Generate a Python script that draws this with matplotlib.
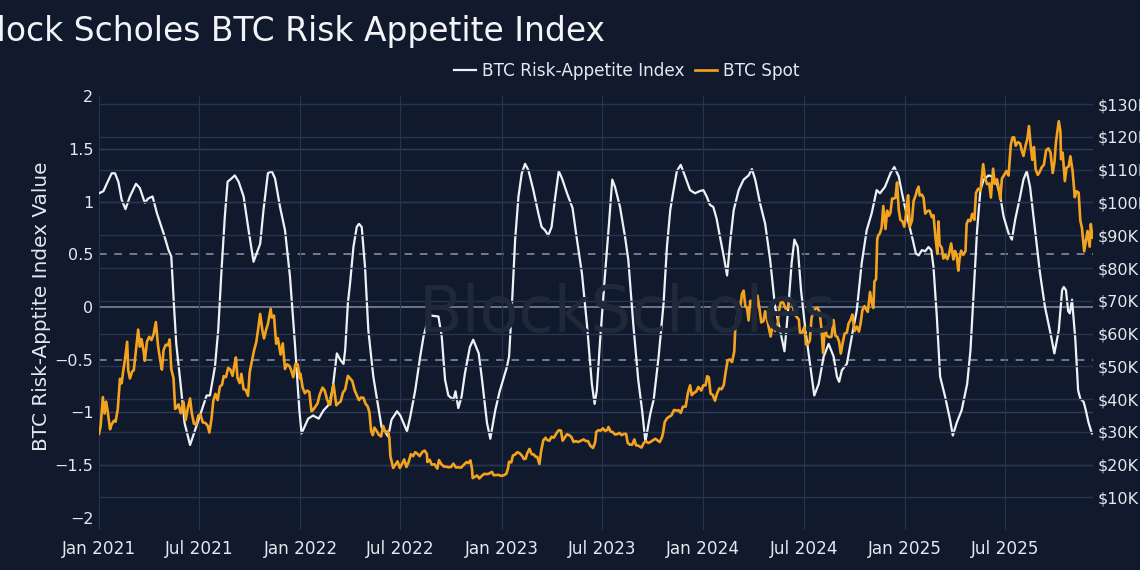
import matplotlib
matplotlib.use('Agg')  # headless
import matplotlib.pyplot as plt
import matplotlib.dates as mdates
from matplotlib.ticker import FuncFormatter
import numpy as np
import pandas as pd

# ---- data ----
# BTC spot, thousands of USD
btc_dates = [
    "2021-01-01", "2021-01-04", "2021-01-08", "2021-01-11", "2021-01-14", "2021-01-17", "2021-01-21", "2021-01-24", "2021-01-28", "2021-01-31",
    "2021-02-04", "2021-02-08", "2021-02-11", "2021-02-14", "2021-02-17", "2021-02-21", "2021-02-23", "2021-02-26",
    "2021-03-02", "2021-03-05", "2021-03-09", "2021-03-13", "2021-03-16", "2021-03-19", "2021-03-23", "2021-03-25", "2021-03-29",
    "2021-04-02", "2021-04-06", "2021-04-10", "2021-04-14", "2021-04-18", "2021-04-22", "2021-04-25", "2021-04-28",
    "2021-05-02", "2021-05-06", "2021-05-09", "2021-05-12", "2021-05-16", "2021-05-19", "2021-05-22", "2021-05-25", "2021-05-29",
    "2021-06-03", "2021-06-07", "2021-06-11", "2021-06-15", "2021-06-18", "2021-06-22", "2021-06-26", "2021-06-30",
    "2021-07-04", "2021-07-08", "2021-07-13", "2021-07-17", "2021-07-20", "2021-07-24", "2021-07-27", "2021-07-31",
    "2021-08-04", "2021-08-08", "2021-08-12", "2021-08-15", "2021-08-19", "2021-08-23", "2021-08-27", "2021-08-31",
    "2021-09-03", "2021-09-06", "2021-09-09", "2021-09-13", "2021-09-16", "2021-09-20", "2021-09-24", "2021-09-28",
    "2021-10-01", "2021-10-05", "2021-10-09", "2021-10-13", "2021-10-16", "2021-10-20", "2021-10-24", "2021-10-27", "2021-10-31",
    "2021-11-03", "2021-11-08", "2021-11-10", "2021-11-14", "2021-11-18", "2021-11-21", "2021-11-26", "2021-11-30",
    "2021-12-04", "2021-12-08", "2021-12-12", "2021-12-15", "2021-12-19", "2021-12-23", "2021-12-27", "2021-12-31",
    "2022-01-01", "2022-01-05", "2022-01-09", "2022-01-13", "2022-01-17", "2022-01-21", "2022-01-24", "2022-01-28",
    "2022-02-01", "2022-02-05", "2022-02-10", "2022-02-14", "2022-02-18", "2022-02-22", "2022-02-24", "2022-02-28",
    "2022-03-02", "2022-03-07", "2022-03-11", "2022-03-15", "2022-03-19", "2022-03-23", "2022-03-28",
    "2022-04-01", "2022-04-05", "2022-04-09", "2022-04-13", "2022-04-17", "2022-04-21", "2022-04-25", "2022-04-29",
    "2022-05-03", "2022-05-06", "2022-05-09", "2022-05-12", "2022-05-15", "2022-05-19", "2022-05-23", "2022-05-27", "2022-05-31",
    "2022-06-04", "2022-06-08", "2022-06-11", "2022-06-13", "2022-06-16", "2022-06-18", "2022-06-22", "2022-06-26", "2022-06-30",
    "2022-07-04", "2022-07-08", "2022-07-12", "2022-07-16", "2022-07-20", "2022-07-24", "2022-07-28",
    "2022-08-01", "2022-08-05", "2022-08-10", "2022-08-14", "2022-08-18", "2022-08-19", "2022-08-23", "2022-08-27",
    "2022-09-01", "2022-09-06", "2022-09-09", "2022-09-13", "2022-09-18", "2022-09-22", "2022-09-26",
    "2022-10-01", "2022-10-05", "2022-10-10", "2022-10-14", "2022-10-19", "2022-10-25", "2022-10-29",
    "2022-11-01", "2022-11-05", "2022-11-08", "2022-11-09", "2022-11-13", "2022-11-17", "2022-11-21", "2022-11-25", "2022-11-30",
    "2022-12-04", "2022-12-08", "2022-12-14", "2022-12-17", "2022-12-21", "2022-12-26", "2022-12-30",
    "2023-01-01", "2023-01-05", "2023-01-09", "2023-01-12", "2023-01-14", "2023-01-18", "2023-01-21", "2023-01-25", "2023-01-29",
    "2023-02-02", "2023-02-06", "2023-02-10", "2023-02-13", "2023-02-16", "2023-02-20", "2023-02-24", "2023-02-28",
    "2023-03-03", "2023-03-06", "2023-03-10", "2023-03-13", "2023-03-17", "2023-03-21", "2023-03-24", "2023-03-28",
    "2023-04-01", "2023-04-05", "2023-04-10", "2023-04-14", "2023-04-18", "2023-04-21", "2023-04-25", "2023-04-29",
    "2023-05-03", "2023-05-07", "2023-05-11", "2023-05-15", "2023-05-19", "2023-05-23", "2023-05-29",
    "2023-06-02", "2023-06-06", "2023-06-10", "2023-06-15", "2023-06-19", "2023-06-21", "2023-06-25", "2023-06-29",
    "2023-07-03", "2023-07-07", "2023-07-11", "2023-07-13", "2023-07-17", "2023-07-21", "2023-07-25", "2023-07-29",
    "2023-08-02", "2023-08-06", "2023-08-10", "2023-08-14", "2023-08-17", "2023-08-21", "2023-08-25", "2023-08-29",
    "2023-09-01", "2023-09-05", "2023-09-11", "2023-09-15", "2023-09-19", "2023-09-23", "2023-09-28",
    "2023-10-02", "2023-10-06", "2023-10-10", "2023-10-14", "2023-10-18", "2023-10-20", "2023-10-23", "2023-10-27", "2023-10-31",
    "2023-11-04", "2023-11-09", "2023-11-13", "2023-11-17", "2023-11-21", "2023-11-25", "2023-11-30",
    "2023-12-04", "2023-12-08", "2023-12-11", "2023-12-15", "2023-12-19", "2023-12-23", "2023-12-28",
    "2024-01-01", "2024-01-05", "2024-01-08", "2024-01-11", "2024-01-14", "2024-01-18", "2024-01-22", "2024-01-26", "2024-01-30",
    "2024-02-03", "2024-02-07", "2024-02-10", "2024-02-14", "2024-02-18", "2024-02-22", "2024-02-26", "2024-02-28",
    "2024-03-01", "2024-03-04", "2024-03-08", "2024-03-11", "2024-03-14", "2024-03-17", "2024-03-20", "2024-03-23", "2024-03-26", "2024-03-30",
    "2024-04-02", "2024-04-05", "2024-04-08", "2024-04-12", "2024-04-15", "2024-04-19", "2024-04-22", "2024-04-26", "2024-04-30",
    "2024-05-02", "2024-05-06", "2024-05-10", "2024-05-14", "2024-05-17", "2024-05-21", "2024-05-25", "2024-05-29",
    "2024-06-02", "2024-06-06", "2024-06-10", "2024-06-14", "2024-06-18", "2024-06-22", "2024-06-24", "2024-06-28",
    "2024-07-02", "2024-07-05", "2024-07-08", "2024-07-12", "2024-07-15", "2024-07-19", "2024-07-22", "2024-07-26", "2024-07-30",
    "2024-08-02", "2024-08-05", "2024-08-08", "2024-08-12", "2024-08-16", "2024-08-20", "2024-08-24", "2024-08-27", "2024-08-31",
    "2024-09-03", "2024-09-06", "2024-09-10", "2024-09-13", "2024-09-17", "2024-09-20", "2024-09-24", "2024-09-27",
    "2024-10-01", "2024-10-05", "2024-10-09", "2024-10-12", "2024-10-15", "2024-10-19", "2024-10-22", "2024-10-25", "2024-10-29",
    "2024-11-01", "2024-11-04", "2024-11-06", "2024-11-09", "2024-11-11", "2024-11-13", "2024-11-16", "2024-11-19", "2024-11-22", "2024-11-26", "2024-11-29",
    "2024-12-02", "2024-12-05", "2024-12-08", "2024-12-11", "2024-12-14", "2024-12-17", "2024-12-20", "2024-12-23", "2024-12-27", "2024-12-30",
    "2025-01-01", "2025-01-03", "2025-01-06", "2025-01-09", "2025-01-13", "2025-01-16", "2025-01-20", "2025-01-22", "2025-01-25", "2025-01-27", "2025-01-31",
    "2025-02-03", "2025-02-06", "2025-02-10", "2025-02-14", "2025-02-18", "2025-02-21", "2025-02-25", "2025-02-28",
    "2025-03-02", "2025-03-04", "2025-03-08", "2025-03-11", "2025-03-14", "2025-03-18", "2025-03-21", "2025-03-25", "2025-03-29",
    "2025-04-01", "2025-04-04", "2025-04-07", "2025-04-09", "2025-04-12", "2025-04-16", "2025-04-20", "2025-04-22", "2025-04-25", "2025-04-29",
    "2025-05-02", "2025-05-06", "2025-05-09", "2025-05-13", "2025-05-17", "2025-05-22", "2025-05-25", "2025-05-29",
    "2025-06-02", "2025-06-05", "2025-06-09", "2025-06-12", "2025-06-16", "2025-06-19", "2025-06-22", "2025-06-25", "2025-06-29",
    "2025-07-03", "2025-07-07", "2025-07-11", "2025-07-14", "2025-07-17", "2025-07-20", "2025-07-24", "2025-07-28", "2025-07-31",
    "2025-08-03", "2025-08-07", "2025-08-10", "2025-08-13", "2025-08-16", "2025-08-19", "2025-08-22", "2025-08-25", "2025-08-29",
    "2025-09-01", "2025-09-05", "2025-09-09", "2025-09-13", "2025-09-17", "2025-09-21", "2025-09-25", "2025-09-28",
    "2025-10-01", "2025-10-04", "2025-10-06", "2025-10-09", "2025-10-10", "2025-10-13", "2025-10-17", "2025-10-20", "2025-10-24", "2025-10-27", "2025-10-31",
    "2025-11-04", "2025-11-07", "2025-11-11", "2025-11-14", "2025-11-17", "2025-11-20", "2025-11-21", "2025-11-24", "2025-11-27",
    "2025-12-01", "2025-12-03", "2025-12-06",
]
btc_price = [
    29.4, 31.9, 40.6, 35.6, 39.2, 35.9, 30.8, 32.3, 33.4, 33.1,
    36.9, 46.2, 44.8, 48.7, 52.1, 57.5, 48.8, 46.3,
    48.4, 48.8, 54.9, 61.2, 56.0, 58.3, 54.5, 51.7, 57.6,
    59.0, 58.0, 59.8, 63.5, 56.2, 51.8, 49.0, 55.0,
    56.6, 56.4, 58.2, 49.1, 46.4, 37.0, 37.5, 38.4, 35.7,
    39.2, 33.6, 37.3, 40.2, 35.8, 32.5, 32.2, 35.0,
    35.3, 32.9, 32.7, 31.8, 29.8, 34.2, 39.4, 41.6,
    39.7, 43.8, 44.4, 47.0, 46.7, 49.5, 49.0, 47.1,
    50.0, 52.7, 46.4, 44.9, 47.7, 43.0, 42.8, 41.0,
    48.2, 51.5, 54.9, 57.4, 60.9, 66.0, 61.0, 58.5, 61.3,
    62.9, 67.5, 64.9, 65.5, 56.9, 58.6, 53.6, 57.0,
    49.2, 50.6, 50.1, 48.9, 46.7, 50.8, 50.6, 46.3,
    47.7, 43.5, 41.8, 42.6, 42.2, 36.3, 36.7, 37.7,
    38.7, 41.4, 43.5, 42.6, 40.0, 38.3, 38.3, 43.2,
    44.4, 38.1, 38.8, 39.3, 42.0, 42.9, 47.1,
    46.3, 45.5, 42.8, 41.2, 39.7, 40.5, 40.4, 38.6,
    37.7, 36.0, 30.3, 29.0, 31.3, 30.3, 29.1, 28.6, 31.8,
    29.9, 30.2, 28.4, 22.5, 20.4, 19.0, 20.0, 21.0, 19.0,
    20.2, 21.6, 19.3, 20.8, 23.2, 22.6, 23.8,
    23.3, 22.6, 23.9, 24.3, 23.3, 20.8, 21.5, 20.0,
    20.1, 18.8, 21.4, 20.2, 19.4, 19.4, 19.2,
    19.3, 20.3, 19.1, 19.2, 19.1, 20.1, 20.8,
    20.5, 21.3, 18.5, 15.9, 16.3, 16.7, 15.8, 16.5, 17.2,
    17.1, 17.2, 17.8, 16.8, 16.8, 16.9, 16.6,
    16.6, 16.8, 17.2, 18.8, 20.9, 20.7, 22.8, 23.1, 23.8,
    23.5, 22.8, 21.7, 21.8, 23.5, 24.8, 23.2, 23.1,
    22.4, 22.4, 20.2, 24.1, 27.4, 28.2, 27.5, 27.3,
    28.5, 28.2, 29.6, 30.5, 30.4, 27.3, 28.3, 29.3,
    29.0, 28.4, 26.9, 27.2, 26.9, 27.2, 27.7,
    27.2, 27.2, 25.8, 25.1, 26.8, 30.0, 30.5, 30.4,
    31.1, 30.3, 30.6, 31.5, 30.1, 29.9, 29.2, 29.3,
    29.7, 29.0, 29.4, 29.4, 26.6, 26.1, 26.1, 27.7,
    25.9, 25.8, 25.2, 26.6, 27.2, 26.6, 27.0,
    27.5, 27.9, 27.4, 26.9, 28.3, 29.7, 33.0, 34.1, 34.6,
    35.0, 36.7, 36.5, 36.6, 35.8, 37.7, 37.7,
    41.9, 44.2, 41.2, 41.9, 42.3, 43.7, 42.6,
    44.2, 44.2, 47.0, 46.6, 41.7, 41.3, 39.5, 41.8, 43.3,
    43.0, 44.3, 47.8, 51.8, 52.1, 51.3, 54.5, 62.4,
    62.4, 68.3, 68.3, 72.1, 73.1, 68.4, 67.9, 64.0, 70.0, 69.9,
    65.4, 67.8, 71.6, 67.2, 63.4, 63.8, 66.8, 63.8, 60.6,
    59.1, 63.2, 60.8, 61.6, 67.0, 70.1, 69.3, 67.6,
    67.8, 70.8, 69.6, 66.0, 65.1, 64.3, 60.3, 60.3,
    62.0, 56.7, 56.7, 57.9, 64.8, 66.7, 67.6, 67.9, 66.2,
    61.4, 54.0, 61.7, 59.3, 58.9, 59.0, 64.1, 59.4, 58.9,
    57.5, 53.9, 57.6, 60.0, 60.3, 63.0, 64.3, 65.8,
    60.8, 62.1, 60.6, 63.2, 67.0, 68.4, 67.4, 66.6, 72.7,
    69.5, 67.8, 75.9, 76.6, 88.7, 90.0, 90.6, 92.3, 98.9, 91.9, 97.5,
    95.9, 96.9, 101.2, 101.2, 101.4, 106.1, 97.8, 94.7, 94.2, 92.6,
    94.4, 98.1, 102.2, 92.5, 94.5, 100.5, 102.3, 103.7, 104.8, 102.1, 102.4,
    101.4, 96.6, 97.4, 97.5, 95.5, 96.1, 88.7, 84.3,
    94.2, 87.2, 86.1, 82.9, 84.0, 82.7, 84.1, 87.5, 82.6,
    85.2, 83.8, 79.2, 82.6, 85.3, 84.0, 85.1, 93.4, 94.7, 94.3,
    96.5, 94.7, 102.9, 104.2, 103.5, 111.7, 107.8, 105.6,
    105.8, 101.5, 110.3, 105.7, 107.1, 104.6, 101.0, 107.3, 108.4,
    109.6, 108.2, 117.5, 119.8, 119.9, 117.3, 118.4, 118.0, 115.8,
    114.2, 117.5, 119.3, 123.3, 117.5, 113.0, 116.9, 110.1, 108.4,
    109.2, 110.7, 111.5, 115.9, 116.5, 115.3, 109.0, 112.1,
    118.6, 122.3, 124.8, 121.6, 113.2, 115.2, 106.5, 110.6, 111.0, 114.1, 109.6,
    101.6, 103.4, 103.0, 94.5, 92.2, 86.6, 85.1, 88.3, 91.3,
    86.5, 93.4, 89.3,
]

# BTC Risk-Appetite Index: days since 2021-01-01 and index value
rai_day = [
    0, 8, 14, 23, 29, 35, 41, 48, 56, 67, 74, 83, 89, 97, 105, 117, 126, 131, 133, 136,
    140, 147, 155, 165, 174, 186, 195, 201, 210, 216, 222, 228, 233, 240, 246, 253, 262, 271, 280, 292,
    298, 306, 313, 319, 328, 337, 346, 355, 363, 367, 379, 388, 398, 407, 416, 423, 431, 437, 443, 446,
    451, 455, 461, 467, 471, 476, 482, 488, 497, 506, 512, 524, 530, 540, 546, 558, 564, 573, 582, 588,
    594, 600, 615, 621, 627, 633, 642, 646, 651, 657, 663, 672, 678, 688, 694, 703, 709, 718, 726, 730,
    739, 743, 748, 754, 760, 766, 772, 778, 787, 796, 802, 808, 814, 820, 826, 833, 839, 848, 858, 866,
    875, 884, 893, 898, 902, 908, 917, 924, 930, 935, 944, 953, 959, 968, 977, 984, 990, 999, 1005, 1014,
    1023, 1029, 1035, 1041, 1047, 1054, 1062, 1071, 1080, 1088, 1095, 1101, 1107, 1113, 1119, 1125, 1132, 1138, 1144, 1150,
    1159, 1168, 1177, 1183, 1189, 1198, 1207, 1216, 1225, 1234, 1242, 1249, 1255, 1260, 1266, 1272, 1280, 1289, 1296, 1304,
    1313, 1322, 1331, 1337, 1341, 1346, 1355, 1364, 1373, 1382, 1391, 1400, 1409, 1415, 1424, 1434, 1441, 1449, 1455, 1464,
    1473, 1480, 1485, 1491, 1497, 1503, 1508, 1512, 1518, 1524, 1533, 1542, 1547, 1554, 1563, 1573, 1579, 1585, 1591, 1597,
    1603, 1612, 1618, 1627, 1633, 1639, 1648, 1654, 1660, 1669, 1675, 1681, 1687, 1696, 1705, 1714, 1724, 1731, 1739, 1745,
    1748, 1752, 1756, 1759, 1763, 1769, 1774, 1778, 1784, 1788, 1793, 1799,
]
rai_value = [
    1.08, 1.10, 1.17, 1.27, 1.27, 1.19, 1.02, 0.93, 1.05, 1.17, 1.13, 0.99, 1.03, 1.05, 0.89, 0.70, 0.54, 0.48, 0.29, 0.00,
    -0.35, -0.69, -1.10, -1.31, -1.17, -0.98, -0.84, -0.84, -0.57, -0.22, 0.35, 0.86, 1.19, 1.22, 1.25, 1.19, 1.05, 0.73, 0.43, 0.60,
    0.92, 1.27, 1.29, 1.22, 0.95, 0.73, 0.29, -0.35, -0.98, -1.20, -1.06, -1.03, -1.06, -0.98, -0.93, -0.79, -0.44, -0.50, -0.54, -0.41,
    0.04, 0.23, 0.57, 0.76, 0.79, 0.76, 0.38, -0.22, -0.66, -0.95, -1.14, -1.23, -1.07, -0.99, -1.03, -1.18, -1.04, -0.79, -0.47, -0.28,
    -0.16, -0.08, -0.09, -0.28, -0.69, -0.84, -0.88, -0.80, -0.96, -0.85, -0.63, -0.38, -0.31, -0.44, -0.69, -1.10, -1.25, -0.98, -0.80, -0.73,
    -0.57, -0.47, 0.00, 0.64, 1.05, 1.27, 1.36, 1.30, 1.11, 0.89, 0.76, 0.73, 0.68, 0.76, 1.02, 1.29, 1.22, 1.08, 0.94, 0.64,
    0.32, -0.16, -0.73, -0.92, -0.79, -0.31, 0.32, 0.79, 1.21, 1.14, 0.95, 0.67, 0.45, -0.16, -0.69, -0.98, -1.28, -1.01, -0.88, -0.47,
    0.04, 0.57, 0.92, 1.11, 1.29, 1.35, 1.24, 1.11, 1.08, 1.10, 1.11, 1.05, 0.97, 0.95, 0.84, 0.67, 0.48, 0.30, 0.64, 0.92,
    1.11, 1.21, 1.25, 1.31, 1.21, 0.98, 0.79, 0.45, 0.00, -0.22, -0.42, 0.00, 0.42, 0.64, 0.57, 0.16, -0.22, -0.57, -0.84, -0.73,
    -0.47, -0.35, -0.47, -0.66, -0.71, -0.60, -0.54, -0.28, -0.03, 0.42, 0.73, 0.89, 1.11, 1.08, 1.14, 1.27, 1.33, 1.24, 1.08, 0.86,
    0.67, 0.51, 0.49, 0.54, 0.53, 0.57, 0.54, 0.38, -0.09, -0.66, -0.85, -1.07, -1.22, -1.10, -0.98, -0.73, -0.41, 0.16, 0.73, 1.11,
    1.21, 1.25, 1.24, 1.17, 1.05, 0.86, 0.70, 0.64, 0.83, 1.05, 1.21, 1.29, 1.14, 0.73, 0.32, 0.00, -0.25, -0.44, -0.22, 0.16,
    0.19, 0.16, -0.04, -0.06, 0.07, -0.31, -0.79, -0.87, -0.90, -0.98, -1.10, -1.20,
]

left_ticks = [-2, -1.5, -1, -0.5, 0, 0.5, 1, 1.5, 2]
right_ticks = [10, 20, 30, 40, 50, 60, 70, 80, 90, 100, 110, 120, 130]
x_ticks = ["2021-01-01", "2021-07-01", "2022-01-01", "2022-07-01", "2023-01-01",
           "2023-07-01", "2024-01-01", "2024-07-01", "2025-01-01", "2025-07-01"]

assert len(btc_dates) == len(btc_price), (len(btc_dates), len(btc_price))
assert len(rai_day) == len(rai_value), (len(rai_day), len(rai_value))

BG = '#111a2d'
TXT = '#e4e8ef'
ORANGE = '#f4a31f'
WHITE = '#eef2f7'

plt.rcParams['font.family'] = ['DejaVu Sans']

btc_x = pd.to_datetime(btc_dates)
rai_x = pd.Timestamp('2021-01-01') + pd.to_timedelta(rai_day, unit='D')

W, H = 1140, 570
fig = plt.figure(figsize=(W / 100, H / 100), dpi=100, facecolor=BG)
top, bot, left, right = 96.4, 530.2, 99, 1093
ax = fig.add_axes([left / W, 1 - bot / H, (right - left) / W, (bot - top) / H])
ax.set_facecolor(BG)
ax2 = ax.twinx()

# watermark
fig.text(628 / W, 1 - 332 / H, 'BlockScholes', fontsize=46, color='#20293a',
         ha='center', va='baseline', zorder=0)

# right-axis grid
for v in right_ticks:
    ax2.axhline(v * 1000, color='#263452', lw=1, zorder=0)
# left-axis grid
for t in left_ticks:
    if t in (-2, 2):
        continue
    if t == 0:
        ax.axhline(t, color='#7a869b', lw=1.2, zorder=1)
    elif abs(t) == 0.5:
        ax.axhline(t, color='#8c96a8', lw=1.1, dashes=(5, 5), zorder=1)
    else:
        ax.axhline(t, color='#2f3e5c', lw=1, zorder=1)
for d in x_ticks:
    ax.axvline(pd.Timestamp(d), color='#26344f', lw=0.8, zorder=1)

l1, = ax.plot(rai_x, rai_value, color=WHITE, lw=1.6, zorder=3, label='BTC Risk-Appetite Index')
l2, = ax2.plot(btc_x, np.array(btc_price) * 1000, color=ORANGE, lw=1.9, zorder=3, label='BTC Spot')

ax.set_xlim(pd.Timestamp('2021-01-01'), pd.Timestamp('2025-12-07'))
ax.set_ylim(-2.119, 2.0)
ax2.set_ylim(0, 132360)

ax.set_xticks(pd.to_datetime(x_ticks))
ax.xaxis.set_major_formatter(mdates.DateFormatter('%b %Y'))
ax.set_yticks(left_ticks)
ax.yaxis.set_major_formatter(FuncFormatter(lambda v, p: f'{v:g}'.replace('-', '\u2212')))
ax2.set_yticks([v * 1000 for v in right_ticks])
ax2.yaxis.set_major_formatter(FuncFormatter(lambda v, p: f'${v / 1000:.0f}K'))

ax.tick_params(axis='x', length=0, pad=7, labelsize=12.2, labelcolor=TXT)
ax.tick_params(axis='y', length=0, pad=4, labelsize=11.5, labelcolor=TXT)
ax2.tick_params(axis='y', length=0, pad=3, labelsize=11.5, labelcolor=TXT)
for a in (ax, ax2):
    for s in a.spines.values():
        s.set_visible(False)

fig.text(42 / W, 1 - 306 / H, 'BTC Risk-Apptite Index Value', rotation=90,
         fontsize=14.4, color=TXT, ha='center', va='center')

fig.text(605 / W, 1 - 31 / H, 'Block Scholes BTC Risk Appetite Index', fontsize=23.7,
         color='#f2f4f8', ha='right', va='center')

fig.legend(handles=[l1, l2], loc='center', bbox_to_anchor=(627 / W, 1 - 71 / H), ncol=2,
           frameon=False, fontsize=12.2, labelcolor=TXT, handlelength=1.3,
           handletextpad=0.35, columnspacing=0.6)

fig.savefig('out.png', dpi=100, facecolor=BG)
